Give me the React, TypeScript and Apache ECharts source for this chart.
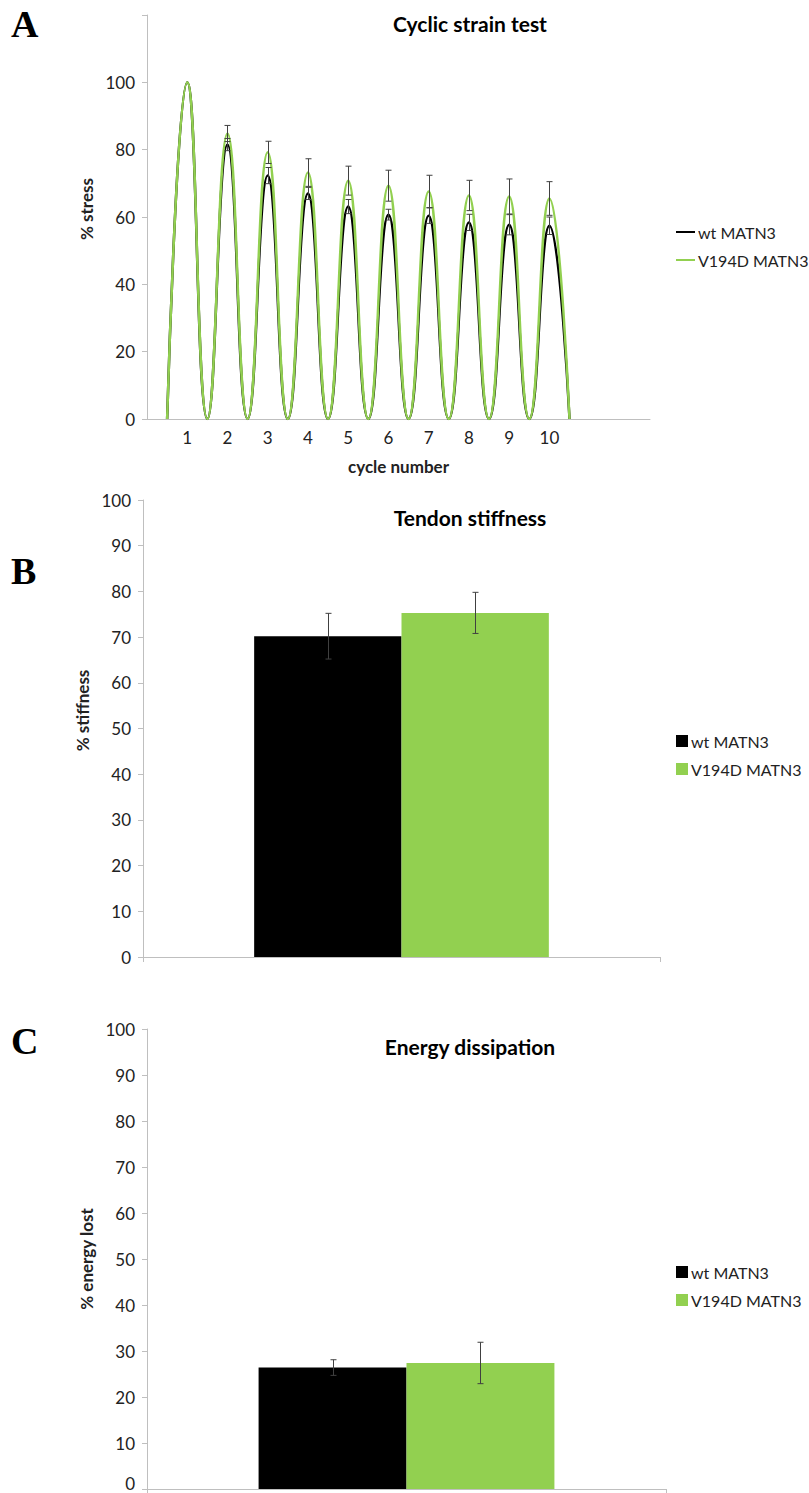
import React, { useEffect, useRef } from "react";
import * as echarts from "echarts";

// ---------- data ----------
const seriesNames = ["wt MATN3", "V194D MATN3"];
const cycleNumbers = [1, 2, 3, 4, 5, 6, 7, 8, 9, 10];
const wtPeakStress = [100, 81.5, 72.3, 67.0, 63.1, 60.7, 60.4, 58.4, 57.7, 57.4];
const wtStressSd = [0, 1.8, 2.4, 1.8, 2.1, 1.6, 2.3, 2.4, 3.0, 2.6];
const v194dPeakStress = [100, 84.8, 79.2, 73.2, 70.8, 69.3, 67.6, 66.4, 66.1, 65.5];
const v194dStressSd = [0, 2.4, 3.3, 4.1, 4.3, 4.6, 4.8, 4.5, 5.2, 5.0];
const troughStress = 0;

const stiffnessMean = [70.2, 75.3];
const stiffnessSd = [5.0, 4.5];
const energyMean = [26.4, 27.4];
const energySd = [1.7, 4.5];

const titles = ["Cyclic strain test", "Tendon stiffness", "Energy dissipation"];
const yNames = ["% stress", "% stiffness", "% energy lost"];
const xNameA = "cycle number";
const panelLetters = ["A", "B", "C"];

// ---------- style ----------
const BLACK = "#000000";
const GREEN = "#92D050";
const AXIS = "#BFBFBF";
const TEXT = "#222222";
const ERR = "#404040";
const FONT = "Lato";
const BAR_CAT_GAP = 0.43;

function cycleCurve(peaks: number[]) {
  const pts: number[][] = [];
  cycleNumbers.forEach((c, i) => {
    pts.push([c - 0.5, troughStress]);
    pts.push([c, peaks[i]]);
  });
  pts.push([cycleNumbers[cycleNumbers.length - 1] + 0.5, troughStress]);
  return pts;
}

function errorData(xs: number[], means: number[], sds: number[]) {
  return xs.map((x, i) => [x, means[i] - sds[i], means[i] + sds[i]]);
}

function makeErrRender(capHalf: number, barSide: number) {
  return (params: any, api: any) => {
    const x = api.value(0);
    const lo = api.coord([x, api.value(1)]);
    const hi = api.coord([x, api.value(2)]);
    let dx = 0;
    if (barSide !== 0) {
      const band = api.size([1, 0])[0];
      dx = ((band * (1 - BAR_CAT_GAP)) / 4) * barSide;
    }
    const cx = Math.round(hi[0] + dx) + 0.5;
    const style = { stroke: ERR, lineWidth: 1 };
    if (api.value(2) - api.value(1) <= 0) return { type: "group", children: [] };
    return {
      type: "group",
      children: [
        { type: "line", shape: { x1: cx, y1: lo[1], x2: cx, y2: hi[1] }, style },
        { type: "line", shape: { x1: cx - capHalf, y1: hi[1], x2: cx + capHalf, y2: hi[1] }, style },
        { type: "line", shape: { x1: cx - capHalf, y1: lo[1], x2: cx + capHalf, y2: lo[1] }, style },
      ],
    };
  };
}

function valueYAxis(
  gridIndex: number,
  max: number,
  interval: number,
  name: string,
  nameGap: number,
  shiftUp: number,
  hideMax: boolean,
  liftZero: boolean
) {
  return {
    type: "value",
    gridIndex,
    min: 0,
    max,
    interval,
    name,
    nameLocation: "middle",
    nameGap,
    nameTextStyle: {
      fontFamily: FONT,
      fontSize: 17,
      fontWeight: "bold",
      color: TEXT,
      padding: [0, 0, 0, shiftUp * 2],
    },
    axisLine: { show: true, lineStyle: { color: AXIS, width: 1 } },
    axisTick: { show: true, length: 5, lineStyle: { color: AXIS } },
    axisLabel: {
      fontFamily: FONT,
      fontSize: 17,
      color: TEXT,
      margin: 12,
      formatter: (v: number) => {
        if (hideMax && v === max) return "";
        if (liftZero && v === 0) return "{z|0}";
        return String(v);
      },
      rich: {
        z: { fontFamily: FONT, fontSize: 17, lineHeight: 17, color: TEXT, padding: [0, 0, 12, 0] },
      },
    },
    splitLine: { show: false },
  };
}

export default function App() {
  const ref = useRef<HTMLDivElement>(null);

  useEffect(() => {
    if (!ref.current) return;
    const chart = echarts.init(ref.current, undefined, { renderer: "svg" });

    const barSeries = (gi: number, means: number[]) =>
      seriesNames.map((name, i) => ({
        type: "bar",
        name,
        xAxisIndex: gi,
        yAxisIndex: gi,
        data: [means[i]],
        barGap: "0%",
        barCategoryGap: `${BAR_CAT_GAP * 100}%`,
        itemStyle: { color: i === 0 ? BLACK : GREEN },
        silent: true,
      }));

    const barErr = (gi: number, means: number[], sds: number[]) =>
      seriesNames.map((name, i) => ({
        type: "custom",
        name: name + " SD",
        xAxisIndex: gi,
        yAxisIndex: gi,
        data: [[0, means[i] - sds[i], means[i] + sds[i]]],
        encode: { x: 0, y: [1, 2] },
        renderItem: makeErrRender(3, i === 0 ? -1 : 1),
        z: 10,
        silent: true,
      }));

    const legendBase = {
      orient: "vertical",
      left: 676,
      padding: 0,
      selectedMode: false,
      itemGap: 10,
      textStyle: {
        fontFamily: FONT,
        fontSize: 16,
        lineHeight: 18,
        color: TEXT,
        padding: [0, 0, 0, -2],
      },
      data: seriesNames,
    };

    const option: any = {
      animation: false,
      textStyle: { fontFamily: FONT },
      grid: [
        { left: 147, top: 15, width: 503, height: 404, outerBoundsMode: "none", containLabel: false },
        { left: 143, top: 500, width: 517, height: 457, outerBoundsMode: "none", containLabel: false },
        { left: 147, top: 1029, width: 519, height: 460, outerBoundsMode: "none", containLabel: false },
      ],
      xAxis: [
        {
          type: "value",
          gridIndex: 0,
          min: 0,
          max: 12.5,
          interval: 1,
          name: xNameA,
          nameLocation: "middle",
          nameGap: 39,
          nameTextStyle: { fontFamily: FONT, fontSize: 17, fontWeight: "bold", color: TEXT },
          axisLine: { show: true, lineStyle: { color: AXIS } },
          axisTick: { show: false },
          axisLabel: {
            fontFamily: FONT,
            fontSize: 17,
            color: TEXT,
            margin: 10,
            showMaxLabel: false,
            formatter: (v: number) => (cycleNumbers.indexOf(v) >= 0 ? String(v) : ""),
          },
          splitLine: { show: false },
        },
        {
          type: "category",
          gridIndex: 1,
          data: [""],
          axisLine: { show: true, lineStyle: { color: AXIS } },
          axisTick: { show: true, length: 5, lineStyle: { color: AXIS } },
          axisLabel: { show: false },
        },
        {
          type: "category",
          gridIndex: 2,
          data: [""],
          axisLine: { show: true, lineStyle: { color: AXIS } },
          axisTick: { show: true, length: 5, lineStyle: { color: AXIS } },
          axisLabel: { show: false },
        },
      ],
      yAxis: [
        valueYAxis(0, 120, 20, yNames[0], 50, 8, true, false),
        valueYAxis(1, 100, 10, yNames[1], 46, 18, false, false),
        valueYAxis(2, 100, 10, yNames[2], 48, 0, false, true),
      ],
      legend: [
        { ...legendBase, top: 223, icon: "rect", itemWidth: 19, itemHeight: 2 },
        { ...legendBase, top: 732, icon: "rect", itemWidth: 12, itemHeight: 12 },
        { ...legendBase, top: 1263, icon: "rect", itemWidth: 12, itemHeight: 12 },
      ],
      series: [
        {
          type: "line",
          name: seriesNames[0],
          xAxisIndex: 0,
          yAxisIndex: 0,
          data: cycleCurve(wtPeakStress),
          smooth: 0.5,
          showSymbol: false,
          color: BLACK,
          lineStyle: { color: BLACK, width: 2.5 },
          silent: true,
        },
        {
          type: "line",
          name: seriesNames[1],
          xAxisIndex: 0,
          yAxisIndex: 0,
          data: cycleCurve(v194dPeakStress),
          smooth: 0.5,
          showSymbol: false,
          color: GREEN,
          lineStyle: { color: GREEN, width: 2.5 },
          silent: true,
        },
        {
          type: "custom",
          name: "wt SD",
          xAxisIndex: 0,
          yAxisIndex: 0,
          data: errorData(cycleNumbers, wtPeakStress, wtStressSd),
          encode: { x: 0, y: [1, 2] },
          renderItem: makeErrRender(3, 0),
          z: 10,
          silent: true,
        },
        {
          type: "custom",
          name: "V194D SD",
          xAxisIndex: 0,
          yAxisIndex: 0,
          data: errorData(cycleNumbers, v194dPeakStress, v194dStressSd),
          encode: { x: 0, y: [1, 2] },
          renderItem: makeErrRender(3, 0),
          z: 10,
          silent: true,
        },
        ...barSeries(1, stiffnessMean),
        ...barErr(1, stiffnessMean, stiffnessSd),
        ...barSeries(2, energyMean),
        ...barErr(2, energyMean, energySd),
      ],
      graphic: [
        ...titles.map((t, i) => ({
          type: "text",
          x: 470,
          y: [23, 517, 1046][i],
          style: {
            text: t,
            textAlign: "center",
            textVerticalAlign: "middle",
            font: `bold 21px ${FONT}`,
            fill: "#000",
          },
        })),
        ...panelLetters.map((l, i) => ({
          type: "text",
          x: 11,
          y: [24, 571, 1041][i],
          style: {
            text: l,
            textAlign: "left",
            textVerticalAlign: "middle",
            font: `bold 38px "Liberation Serif"`,
            fill: "#000",
          },
        })),
      ],
    };

    chart.setOption(option);
    return () => chart.dispose();
  }, []);

  return (
    <div
      ref={ref}
      style={{ position: "absolute", left: 0, top: 0, width: 809, height: 1493, background: "#fff" }}
    />
  );
}
